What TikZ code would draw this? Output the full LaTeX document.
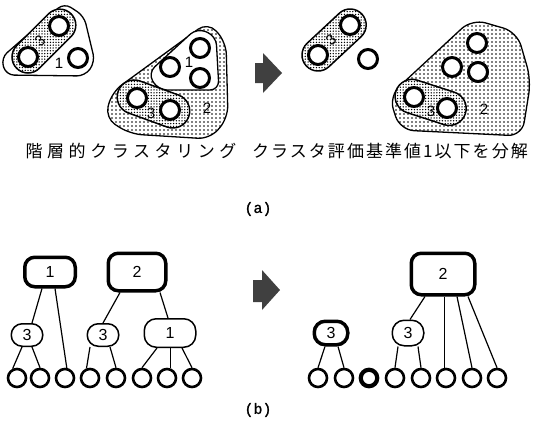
\documentclass[tikz,border=0pt]{standalone}
\usepackage{fontspec}
\setmainfont{Liberation Sans}
\newfontfamily\jpwide[LetterSpace=27]{Noto Sans CJK JP}
\newfontfamily\jpmid[LetterSpace=12]{Noto Sans CJK JP}
\newfontfamily\capfont[FakeBold=1.2]{Liberation Mono}
\usetikzlibrary{patterns,calc}

% stipple fills: a sparse one for large clusters, a dense one for small clusters
\pgfdeclarepatternformonly{fine stipple}{\pgfqpoint{-1pt}{-1pt}}{\pgfqpoint{1pt}{1pt}}{\pgfqpoint{4pt}{4pt}}%
  {\pgfpathcircle{\pgfqpoint{0pt}{0pt}}{0.85pt}\pgfusepath{fill}}
\pgfdeclarepatternformonly{dense stipple}{\pgfqpoint{-1pt}{-1pt}}{\pgfqpoint{1pt}{1pt}}{\pgfqpoint{2.8pt}{2.8pt}}%
  {\pgfpathcircle{\pgfqpoint{0pt}{0pt}}{0.75pt}\pgfusepath{fill}}

\tikzset{
  ring/.style={circle, draw, line width=3pt, fill=white, minimum size=19pt, inner sep=0pt},
  leaf/.style={circle, draw, line width=2.6pt, fill=white, minimum size=18pt, inner sep=0pt},
  boldleaf/.style={leaf, line width=4.2pt, minimum size=16.5pt},
  plainregion/.style={draw, line width=1.3pt, fill=white},
  stippleregion/.style={draw, line width=1.3pt, preaction={fill=white}, pattern=fine stipple},
  capsule/.style={draw, line width=1.5pt, preaction={fill=white}, pattern=dense stipple},
  digit/.style={font=\fontsize{15}{15}\selectfont, inner sep=0pt},
  thickbox/.style={draw, line width=3.5pt, rounded corners=10pt, fill=white,
                   inner sep=0pt, font=\fontsize{16}{16}\selectfont},
  thinbox/.style={draw, line width=1.5pt, fill=white,
                  inner sep=0pt, font=\fontsize{16}{16}\selectfont},
  link/.style={line width=1.2pt},
  bigarrow/.style={fill=black!75},
  jlabel/.style={inner sep=0pt},
  caption/.style={font=\capfont\fontsize{15}{15}\selectfont, inner sep=0pt}
}

\begin{document}
\begin{tikzpicture}[x=1pt, y=-1pt]
\useasboundingbox (0,0) rectangle (533,426);

% ---------------- (a) left: hierarchical clustering ----------------
% cluster 1 (small)
\draw[plainregion, rounded corners=8pt] (64,3) -- (84,16) -- (95,62) -- (85,76) -- (6,75) -- (1,58) -- cycle;
\begin{scope}[shift={(28,57)}, rotate=45]
  \draw[capsule, rounded corners=16pt] (-16,-16) rectangle (61,16);
\end{scope}
\node[ring] (a1) at (28,57) {};
\node[ring] (a2) at (59,26) {};
\node[ring] (a3) at (78,58) {};
\node[digit] (la1) at (59,63) {1};
\node[digit, rotate=40] (la3) at (40,41) {3};

% cluster 2 (large)
\draw[stippleregion, rounded corners=12pt] (208,22) -- (226,42) -- (228,118) -- (210,139)
  -- (130,134) -- (105,118) -- (112,92) -- cycle;
\draw[plainregion, rounded corners=9pt] (197,28) -- (216,36) -- (219,90) -- (158,90) -- (148,73) -- cycle;
\begin{scope}[shift={(137,98)}, rotate=-20]
  \draw[capsule, rounded corners=17pt] (-20,-17) rectangle (55,17);
\end{scope}
\node[ring] (b1) at (200,48) {};
\node[ring] (b2) at (170,67) {};
\node[ring] (b3) at (200,78) {};
\node[ring] (b4) at (137,98) {};
\node[ring] (b5) at (170,110) {};
\node[digit] (lb1) at (189,62) {1};
\node[digit] (lb3) at (151,113) {3};
\node[digit] (lb2) at (207,108) {2};

% arrow
\fill[bigarrow] (255,63) -- (263,63) -- (263,53) -- (282,73) -- (263,93) -- (263,83) -- (255,83) -- cycle;

% ---------------- (a) right: after splitting ----------------
\begin{scope}[shift={(318,55)}, rotate=43]
  \draw[capsule, rounded corners=16pt] (-16,-16) rectangle (60,16);
\end{scope}
\node[ring] (c1) at (318,55) {};
\node[ring] (c2) at (350,25) {};
\node[ring] (c3) at (368,59) {};
\node[digit, rotate=40] (lc3) at (331,40) {3};

\draw[stippleregion, rounded corners=14pt] (472,19) -- (517,32) -- (531,80) -- (522,136)
  -- (400,130) -- (389,96) -- cycle;
\begin{scope}[shift={(414,97)}, rotate=-18]
  \draw[capsule, rounded corners=17pt] (-19,-17) rectangle (54,17);
\end{scope}
\node[ring] (d1) at (477,43) {};
\node[ring] (d2) at (452,67) {};
\node[ring] (d3) at (478,72) {};
\node[ring] (d4) at (414,97) {};
\node[ring] (d5) at (447,108) {};
\node[digit] (ld3) at (431,111) {3};
\node[digit] (ld2) at (484,109) {2};

% captions of (a)
\node[jlabel] (capl) at (131,151) {\jpwide\fontsize{17}{17}\selectfont 階層的クラスタリング};
\node[jlabel] (capr) at (390,151) {\jpmid\fontsize{17}{17}\selectfont クラスタ評価基準値1以下を分解};
\node[caption] (capa) at (258,209) {(a)};

% ---------------- (b) left tree ----------------
\node[thickbox, minimum width=50.5pt, minimum height=29.5pt] (t1) at (50,272) {1};
\node[thickbox, minimum width=57.5pt, minimum height=37.5pt] (t2) at (137,272) {2};
\node[thinbox, rounded corners=11pt, minimum width=31.5pt, minimum height=22.5pt] (t3a) at (27,335) {3};
\node[thinbox, rounded corners=11pt, minimum width=31.5pt, minimum height=22.5pt] (t3b) at (103,335) {3};
\node[thinbox, rounded corners=12pt, minimum width=51.5pt, minimum height=28.5pt] (t1b) at (170,333) {1};
\foreach \i/\x in {1/17, 2/40, 3/65, 4/90, 5/116, 6/142, 7/167, 8/192}
  \node[leaf] (p\i) at (\x,378) {};

\draw[link] ([xshift=-8pt]t1.south) -- ([xshift=5pt]t3a.north);
\draw[link] ([xshift=5pt]t1.south) -- (p3.80);
\draw[link] ([xshift=-5pt]t3a.south) -- (p1.115);
\draw[link] ([xshift=5pt]t3a.south) -- (p2.north);
\draw[link] ([xshift=-17pt]t2.south) -- (t3b.north);
\draw[link] ([xshift=23pt]t2.south) -- ([xshift=-2pt]t1b.north);
\draw[link] ([xshift=-13pt]t3b.south) -- (p4.110);
\draw[link] ([xshift=7pt]t3b.south) -- (p5.north);
\draw[link] ([xshift=-13pt]t1b.south) -- (p6.north);
\draw[link] (t1b.south -| p7.70) -- (p7.70);
\draw[link] ([xshift=12pt]t1b.south) -- (p8.north);

% arrow
\fill[bigarrow] (253,280) -- (262,280) -- (262,270) -- (280,290) -- (262,310) -- (262,302) -- (253,302) -- cycle;

% ---------------- (b) right tree ----------------
\node[thickbox, minimum width=63.5pt, minimum height=41.5pt] (u2) at (443,274) {2};
\node[thickbox, rounded corners=11pt, minimum width=33.5pt, minimum height=23.5pt] (u3a) at (331,333) {3};
\node[thinbox, rounded corners=12pt, minimum width=31.5pt, minimum height=25.5pt] (u3b) at (408,333) {3};
\foreach \i/\x in {1/318, 2/344, 4/395, 5/421, 6/446, 7/472, 8/497}
  \node[leaf] (q\i) at (\x,378) {};
\node[boldleaf] (q3) at (369,378) {};

\draw[link] ([xshift=-6pt]u3a.south) -- (q1.north);
\draw[link] ([xshift=7pt]u3a.south) -- (q2.north);
\draw[link] ([xshift=-18pt]u2.south) -- ([xshift=2pt]u3b.north);
\draw[link] ([xshift=-10pt]u3b.south) -- (q4.north);
\draw[link] ([xshift=10pt]u3b.south) -- (q5.north);
\draw[link] (u2.south -| q6.100) -- (q6.100);
\draw[link] ([xshift=14pt]u2.south) -- (q7.north);
\draw[link] ([xshift=25pt]u2.south) -- (q8.north);

\node[caption] (capb) at (258,410) {(b)};
\end{tikzpicture}
\end{document}
